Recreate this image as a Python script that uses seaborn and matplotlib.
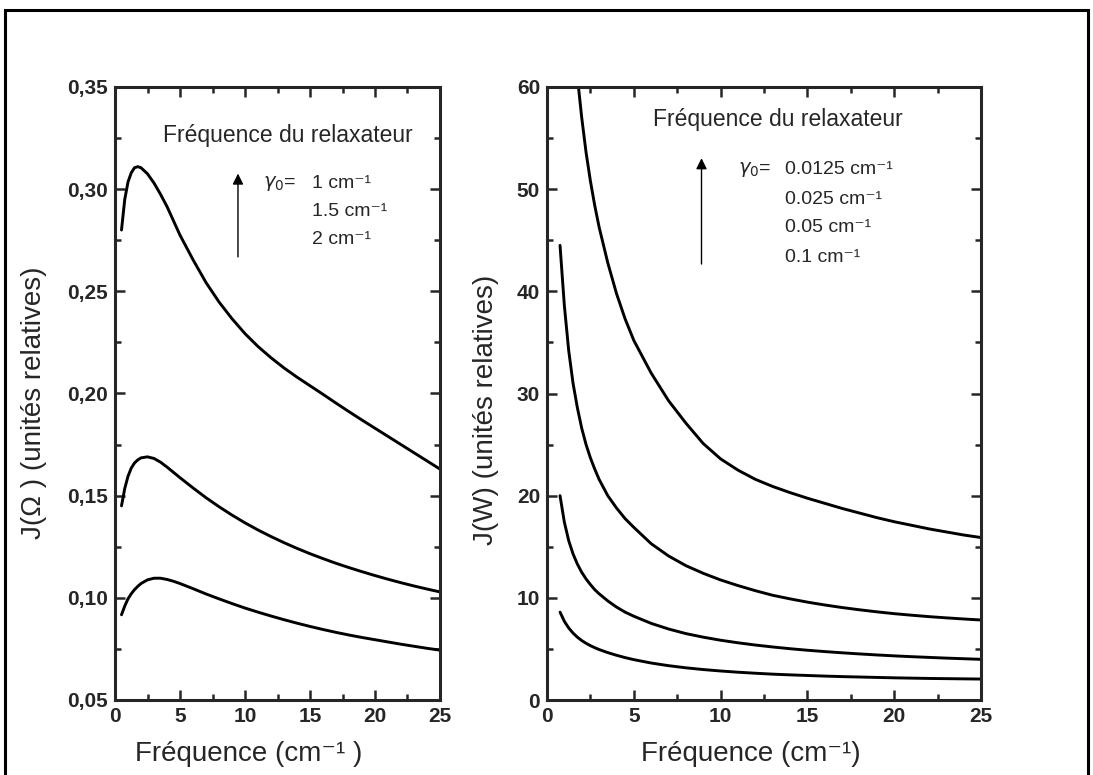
import numpy as np
import pandas as pd
import matplotlib
matplotlib.use("Agg")
import matplotlib.pyplot as plt
import seaborn as sns
from matplotlib.patches import Rectangle
from matplotlib.ticker import MultipleLocator, FuncFormatter

# ── Data ─────────────────────────────────────────────────────────────────────
# left panel: J(Omega) for gamma0 = 1, 1.5, 2 cm-1
freq_left = [0.5, 0.75, 1.0, 1.25, 1.5, 1.75, 2.0, 2.5, 3.0, 3.5, 4.0, 4.5, 5.0,
             6, 7, 8, 9, 10, 11, 12, 13, 14, 15, 16, 17, 18, 19, 20, 21, 22,
             23, 24, 25]
j_gamma_1 = [0.280, 0.295, 0.3035, 0.308, 0.3105, 0.311, 0.3105, 0.3075, 0.303,
             0.2975, 0.2915, 0.2845, 0.2775,
             0.2655, 0.2543, 0.2448, 0.2366, 0.2293, 0.2230, 0.2175, 0.2125,
             0.2080, 0.2038, 0.1996, 0.1953, 0.1911, 0.1870, 0.1830, 0.1790,
             0.1750, 0.1710, 0.1670, 0.1630]
j_gamma_15 = [0.145, 0.1535, 0.1595, 0.1635, 0.1660, 0.1675, 0.1685, 0.1690,
              0.1682, 0.1664, 0.1640, 0.1614, 0.1588,
              0.1538, 0.1490, 0.1446, 0.1405, 0.1367, 0.1332, 0.1300, 0.1270,
              0.1242, 0.1216, 0.1192, 0.1169, 0.1148, 0.1128, 0.1109, 0.1091,
              0.1074, 0.1058, 0.1043, 0.1029]
j_gamma_2 = [0.0917, 0.0960, 0.0995, 0.1020, 0.1040, 0.1056, 0.1070, 0.1088,
             0.1096, 0.1096, 0.1090, 0.1081, 0.1070,
             0.1045, 0.1019, 0.0995, 0.0972, 0.0950, 0.0930, 0.0911, 0.0893,
             0.0876, 0.0860, 0.0845, 0.0831, 0.0818, 0.0806, 0.0795, 0.0784,
             0.0773, 0.0763, 0.0753, 0.0744]

# right panel: J(W) for gamma0 = 0.0125, 0.025, 0.05, 0.1 cm-1
freq_right = [0.75, 1.0, 1.25, 1.5, 1.75, 2.0, 2.25, 2.5, 2.75, 3.0, 3.5, 4.0,
              4.5, 5.0, 6, 7, 8, 9, 10, 11, 12, 13, 14, 15, 16, 17, 18, 19,
              20, 21, 22, 23, 24, 25]
j_g0125 = [np.nan, np.nan, np.nan, np.nan, 61.0, 57.0, 53.6, 50.8, 48.4, 46.3,
           42.8, 39.8, 37.3, 35.2,
           32.0, 29.3, 27.1, 25.1, 23.6, 22.5, 21.6, 20.9, 20.3, 19.75, 19.25,
           18.75, 18.3, 17.85, 17.45, 17.1, 16.75, 16.45, 16.15, 15.9]
j_g025 = [44.5, 38.6, 34.2, 31.0, 28.6, 26.6, 25.0, 23.7, 22.6, 21.6, 20.0,
          18.8, 17.75, 16.9,
          15.3, 14.1, 13.15, 12.4, 11.75, 11.2, 10.7, 10.25, 9.9, 9.58, 9.3,
          9.05, 8.83, 8.63, 8.45, 8.3, 8.16, 8.04, 7.93, 7.83]
j_g05 = [20.0, 17.4, 15.6, 14.3, 13.3, 12.5, 11.85, 11.3, 10.8, 10.4, 9.7,
         9.1, 8.6, 8.2,
         7.5, 6.95, 6.5, 6.15, 5.85, 5.6, 5.38, 5.19, 5.02, 4.87, 4.74, 4.62,
         4.51, 4.41, 4.32, 4.24, 4.17, 4.1, 4.04, 3.98]
j_g1 = [8.6, 7.7, 7.05, 6.55, 6.15, 5.82, 5.55, 5.32, 5.12, 4.94, 4.64, 4.38,
        4.15, 3.95,
        3.62, 3.36, 3.15, 2.98, 2.84, 2.72, 2.62, 2.53, 2.46, 2.40, 2.34, 2.29,
        2.25, 2.21, 2.17, 2.14, 2.11, 2.09, 2.07, 2.05]

labels_left = ["1 cm⁻¹", "1.5 cm⁻¹", "2 cm⁻¹"]
labels_right = ["0.0125 cm⁻¹", "0.025 cm⁻¹", "0.05 cm⁻¹", "0.1 cm⁻¹"]

# ── Style ────────────────────────────────────────────────────────────────────
sns.set_theme(style="ticks")
plt.rcParams["font.family"] = ["Liberation Sans", "DejaVu Sans"]
plt.rcParams["axes.linewidth"] = 2.2

W, H = 1093, 775
fig = plt.figure(figsize=(W / 100, H / 100), dpi=100)

ax1 = fig.add_axes([115 / W, (H - 700) / H, (440 - 115) / W, (700 - 87) / H])
ax2 = fig.add_axes([547 / W, (H - 700) / H, (981 - 547) / W, (700 - 87) / H])

for y in [j_gamma_1, j_gamma_15, j_gamma_2]:
    sns.lineplot(x=freq_left, y=y, ax=ax1, color="black", linewidth=2.1)
for y in [j_g0125, j_g025, j_g05, j_g1]:
    sns.lineplot(x=freq_right, y=y, ax=ax2, color="black", linewidth=2.1)

# ── Axes ─────────────────────────────────────────────────────────────────────
ax1.set_xlim(0, 25)
ax1.set_ylim(0.05, 0.35)
ax1.yaxis.set_major_locator(MultipleLocator(0.05))
ax1.yaxis.set_minor_locator(MultipleLocator(0.025))
ax1.yaxis.set_major_formatter(FuncFormatter(lambda v, _: f"{v:.2f}".replace(".", ",")))

ax2.set_xlim(0, 25)
ax2.set_ylim(0, 60)
ax2.yaxis.set_major_locator(MultipleLocator(10))
ax2.yaxis.set_minor_locator(MultipleLocator(5))

for ax in (ax1, ax2):
    ax.xaxis.set_major_locator(MultipleLocator(5))
    ax.xaxis.set_minor_locator(MultipleLocator(2.5))
    ax.tick_params(which="both", direction="in", top=True, right=True,
                   width=1.8, labelsize=15, pad=5)
    ax.tick_params(which="major", length=7)
    ax.tick_params(which="minor", length=4)
    for lab in ax.get_xticklabels() + ax.get_yticklabels():
        lab.set_fontweight("bold")
    for s in ax.spines.values():
        s.set_linewidth(2.2)

ax1.set_xlabel("Fréquence (cm⁻¹ )", fontsize=20)
ax1.set_ylabel("J(Ω ) (unités relatives)", fontsize=20)
ax1.xaxis.set_label_coords(0.41, -0.067)
ax1.yaxis.set_label_coords(-0.21, 0.485)

ax2.set_xlabel("Fréquence (cm⁻¹)", fontsize=20)
ax2.set_ylabel("J(W) (unités relatives)", fontsize=20)
ax2.xaxis.set_label_coords(0.47, -0.067)
ax2.yaxis.set_label_coords(-0.11, 0.473)

# ── Annotations ──────────────────────────────────────────────────────────────
ax1.text(3.7, 0.3265, "Fréquence du relaxateur", fontsize=16.5, va="center")
ax1.annotate("", xy=(9.46, 0.309), xytext=(9.46, 0.2655),
             arrowprops=dict(arrowstyle="-|>", color="black", lw=1, mutation_scale=16))
ax1.text(11.4, 0.303, r"$\gamma_0$=", fontsize=14, va="center")
for lab, yy in zip(labels_left, [0.303, 0.2889, 0.2752]):
    ax1.text(15.15, yy, lab, fontsize=14, va="center")

ax2.text(6.13, 56.8, "Fréquence du relaxateur", fontsize=16.5, va="center")
ax2.annotate("", xy=(8.9, 53.3), xytext=(8.9, 42.4),
             arrowprops=dict(arrowstyle="-|>", color="black", lw=1, mutation_scale=16))
ax2.text(11.0, 51.9, r"$\gamma_0$=", fontsize=14, va="center")
for lab, yy in zip(labels_right, [51.9, 49.0, 46.2, 43.3]):
    ax2.text(13.7, yy, lab, fontsize=14, va="center")

# outer frame of the scanned figure
fig.patches.append(Rectangle((5 / W, -0.05), 1083 / W, (H - 10) / H + 0.05,
                             transform=fig.transFigure, fill=False,
                             lw=2.2, ec="black"))

fig.savefig("out.png", dpi=100)
